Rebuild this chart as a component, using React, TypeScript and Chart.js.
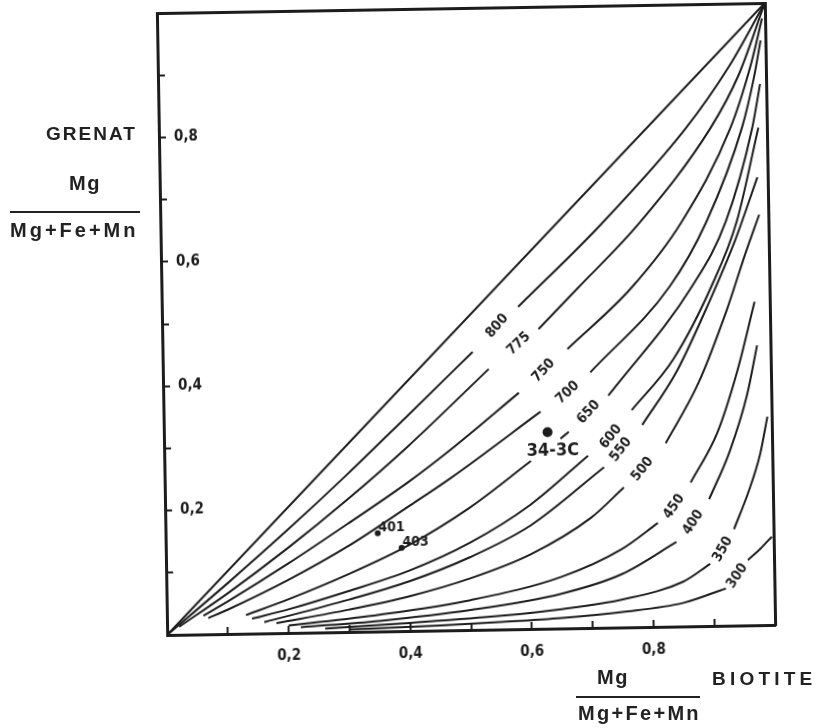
import React, { useEffect, useRef } from 'react';
import { Chart, registerables } from 'chart.js';

Chart.register(...registerables);

type Pt = [number, number] | null;

// 1:1 line
const lineEqual: Pt[] = [[0, 0], [1, 1]];

// isotherms (x = Mg/(Mg+Fe+Mn) biotite, y = Mg/(Mg+Fe+Mn) grenat); null = break in the line for a label
const iso800: Pt[] = [[0, 0], [0.1, 0.081], [0.2, 0.165], [0.3, 0.253], [0.4, 0.345], [0.51, 0.447], null, [0.586, 0.518], [0.726, 0.65], [0.866, 0.8], [0.94, 0.9], [1, 1]];
const iso775: Pt[] = [[0.02, 0.013], [0.1, 0.065], [0.2, 0.136], [0.3, 0.213], [0.4, 0.296], [0.536, 0.419], null, [0.619, 0.482], [0.685, 0.547], [0.788, 0.65], [0.907, 0.8], [0.955, 0.885], [1, 1]];
const iso750: Pt[] = [[0.06, 0.03], [0.1, 0.052], [0.2, 0.111], [0.3, 0.174], [0.4, 0.239], [0.472, 0.291], [0.585, 0.38], null, [0.666, 0.449], [0.774, 0.547], [0.857, 0.65], [0.94, 0.8], [0.975, 0.9], [0.995, 0.975]];
const iso700: Pt[] = [[0.068, 0.026], [0.1, 0.039], [0.2, 0.085], [0.3, 0.138], [0.4, 0.2], [0.471, 0.245], [0.62, 0.349], null, [0.703, 0.411], [0.836, 0.547], [0.898, 0.65], [0.959, 0.8], [0.98, 0.88], [0.992, 0.94]];
const iso650: Pt[] = [[0.13, 0.03], [0.2, 0.054], [0.3, 0.093], [0.4, 0.138], [0.5, 0.196], [0.603, 0.27], null, [0.652, 0.305], [0.666, 0.316], null, [0.732, 0.373], [0.873, 0.547], [0.93, 0.65], [0.976, 0.8], [0.99, 0.87]];
const iso600: Pt[] = [[0.14, 0.024], [0.2, 0.038], [0.3, 0.066], [0.4, 0.097], [0.5, 0.14], [0.6, 0.199], [0.697, 0.277], null, [0.77, 0.349], [0.84, 0.43], [0.905, 0.547], [0.948, 0.65], [0.986, 0.8]];
const iso550: Pt[] = [[0.16, 0.018], [0.3, 0.052], [0.4, 0.08], [0.5, 0.117], [0.6, 0.166], [0.723, 0.258], null, [0.787, 0.325], [0.845, 0.41], [0.9, 0.52], [0.945, 0.62], [0.983, 0.72]];
const iso500: Pt[] = [[0.18, 0.016], [0.3, 0.036], [0.4, 0.056], [0.5, 0.083], [0.6, 0.12], [0.7, 0.177], [0.755, 0.225], null, [0.825, 0.295], [0.88, 0.39], [0.93, 0.51], [0.962, 0.6], [0.985, 0.66]];
const iso450: Pt[] = [[0.2, 0.012], [0.35, 0.027], [0.5, 0.048], [0.65, 0.083], [0.75, 0.126], [0.81, 0.167], null, [0.865, 0.231], [0.91, 0.31], [0.945, 0.41], [0.975, 0.52]];
const iso400: Pt[] = [[0.22, 0.009], [0.35, 0.017], [0.5, 0.032], [0.65, 0.056], [0.75, 0.086], [0.84, 0.136], null, [0.895, 0.204], [0.93, 0.28], [0.96, 0.37], [0.978, 0.45]];
const iso350: Pt[] = [[0.26, 0.006], [0.4, 0.013], [0.55, 0.022], [0.65, 0.031], [0.75, 0.045], [0.85, 0.072], [0.895, 0.1], null, [0.935, 0.155], [0.96, 0.215], [0.98, 0.275], [0.993, 0.335]];
const iso300: Pt[] = [[0.3, 0.004], [0.45, 0.008], [0.55, 0.012], [0.65, 0.017], [0.75, 0.025], [0.85, 0.038], [0.92, 0.06], null, [0.957, 0.105], [0.978, 0.123], [0.997, 0.142]];

const isothermNames = ['800', '775', '750', '700', '650', '600', '550', '500', '450', '400', '350', '300'];
const isothermCurves = [iso800, iso775, iso750, iso700, iso650, iso600, iso550, iso500, iso450, iso400, iso350, iso300];
const isothermLabelX = [0.551, 0.586, 0.626, 0.665, 0.699, 0.735, 0.751, 0.786, 0.837, 0.868, 0.916, 0.939];
const isothermLabelY = [0.488, 0.459, 0.415, 0.379, 0.347, 0.307, 0.286, 0.254, 0.193, 0.167, 0.123, 0.08];

// analysed samples
const sampleNames = ['34-3C', '401', '403'];
const sampleX = [0.631, 0.349, 0.388];
const sampleY = [0.316, 0.158, 0.134];

// axis ticks
const tickValues = [0.1, 0.2, 0.3, 0.4, 0.5, 0.6, 0.7, 0.8, 0.9];
const xLabelValues = [0.2, 0.4, 0.6, 0.8];
const xTickLabels = ['0,2', '0,4', '0,6', '0,8'];
const yLabelValues = [0.2, 0.4, 0.6, 0.8];
const yTickLabels = ['0,2', '0,4', '0,6', '0,8'];

const INK = '#1c1c1c';
const CONDENSED = '"DejaVu Sans Condensed", "DejaVu Sans", sans-serif';

function labelFor(v: number, values: number[], labels: string[]): string {
  const i = values.findIndex((w) => Math.abs(w - v) < 1e-6);
  return i >= 0 ? labels[i] : '';
}

function segments(curve: Pt[]): { x: number; y: number }[][] {
  const out: { x: number; y: number }[][] = [];
  let cur: { x: number; y: number }[] = [];
  curve.forEach((p) => {
    if (p === null) {
      if (cur.length) out.push(cur);
      cur = [];
    } else cur.push({ x: p[0], y: p[1] });
  });
  if (cur.length) out.push(cur);
  return out;
}

const labelPlugin = {
  id: 'isoLabels',
  afterDatasetsDraw(chart: any) {
    const { ctx } = chart;
    const xs = chart.scales.x;
    const ys = chart.scales.y;
    ctx.save();
    ctx.fillStyle = INK;
    ctx.textAlign = 'center';
    ctx.textBaseline = 'middle';
    ctx.font = `bold 14px ${CONDENSED}`;
    isothermNames.forEach((name, i) => {
      const curve = isothermCurves[i];
      const k = curve.lastIndexOf(null);
      const a = curve[k - 1] as [number, number];
      const b = curve[k + 1] as [number, number];
      const ang = Math.atan2(
        ys.getPixelForValue(b[1]) - ys.getPixelForValue(a[1]),
        xs.getPixelForValue(b[0]) - xs.getPixelForValue(a[0])
      );
      ctx.save();
      ctx.translate(xs.getPixelForValue(isothermLabelX[i]), ys.getPixelForValue(isothermLabelY[i]));
      ctx.rotate(ang - 0.08);
      ctx.fillText(name, 0, 0);
      ctx.restore();
    });
    sampleNames.forEach((name, i) => {
      const px = xs.getPixelForValue(sampleX[i]);
      const py = ys.getPixelForValue(sampleY[i]);
      if (i === 0) {
        ctx.font = `bold 18px ${CONDENSED}`;
        ctx.fillText(name, px + 5, py + 19);
      } else {
        ctx.font = `bold 14px ${CONDENSED}`;
        ctx.fillText(name, px + 14, py - 5);
      }
    });
    ctx.restore();
  },
};

function noPad(s: any) {
  s.paddingTop = 0;
  s.paddingBottom = 0;
  s.paddingLeft = 0;
  s.paddingRight = 0;
}

export default function App() {
  const ref = useRef<HTMLCanvasElement | null>(null);

  useEffect(() => {
    if (!ref.current) return;
    const datasets: any[] = [];
    const allCurves = [lineEqual, ...isothermCurves];
    allCurves.forEach((c) => {
      segments(c).forEach((seg) => {
        datasets.push({
          type: 'scatter',
          data: seg,
          showLine: true,
          borderColor: INK,
          borderWidth: 2,
          pointRadius: 0,
          cubicInterpolationMode: 'monotone',
          fill: false,
        });
      });
    });
    datasets.push({
      type: 'scatter',
      data: sampleX.map((x, i) => ({ x, y: sampleY[i] })),
      showLine: false,
      pointRadius: (c: any) => (c.dataIndex === 0 ? 5 : 3),
      backgroundColor: INK,
      borderWidth: 0,
    });

    const tickFont = { family: CONDENSED, size: 15, weight: 'bold' as const };
    const tickColor = (c: any) => {
      const v = c.tick ? c.tick.value : 0;
      return v < 0.05 || v > 0.95 ? 'rgba(0,0,0,0)' : INK;
    };

    const chart = new Chart(ref.current, {
      type: 'scatter',
      data: { datasets },
      plugins: [labelPlugin],
      options: {
        animation: false,
        responsive: false,
        devicePixelRatio: 1,
        layout: { padding: { left: 162, top: 10, right: 53, bottom: 56 } },
        plugins: { legend: { display: false }, tooltip: { enabled: false }, title: { display: false } },
        scales: {
          x: {
            type: 'linear',
            position: 'bottom',
            min: 0,
            max: 1,
            afterFit: (s: any) => {
              s.height = 40;
              noPad(s);
            },
            afterBuildTicks: (s: any) => {
              s.ticks = tickValues.map((v) => ({ value: v }));
            },
            ticks: {
              autoSkip: false,
              maxRotation: 0,
              padding: 21,
              font: tickFont,
              color: INK,
              callback: (v: any) => labelFor(Number(v), xLabelValues, xTickLabels),
            },
            grid: { display: true, drawOnChartArea: false, drawTicks: true, tickLength: -7, tickWidth: 2, tickColor },
            border: { display: true, width: 3, color: INK },
          },
          y: {
            type: 'linear',
            position: 'left',
            min: 0,
            max: 1,
            afterFit: (s: any) => {
              s.width = 0;
              noPad(s);
            },
            afterBuildTicks: (s: any) => {
              s.ticks = tickValues.map((v) => ({ value: v }));
            },
            ticks: {
              autoSkip: false,
              mirror: true,
              padding: 15,
              font: tickFont,
              color: INK,
              callback: (v: any) => labelFor(Number(v), yLabelValues, yTickLabels),
            },
            grid: { display: true, drawOnChartArea: false, drawTicks: true, tickLength: -7, tickWidth: 2, tickColor },
            border: { display: true, width: 3, color: INK },
          },
          x2: {
            type: 'linear',
            position: 'top',
            min: 0,
            max: 1,
            afterFit: (s: any) => {
              s.height = 0;
              noPad(s);
            },
            ticks: { display: false },
            grid: { display: false },
            border: { display: true, width: 3, color: INK },
          },
          y2: {
            type: 'linear',
            position: 'right',
            min: 0,
            max: 1,
            afterFit: (s: any) => {
              s.width = 0;
              noPad(s);
            },
            ticks: { display: false },
            grid: { display: false },
            border: { display: true, width: 3, color: INK },
          },
        },
      } as any,
    });
    return () => chart.destroy();
  }, []);

  const title: React.CSSProperties = {
    position: 'absolute',
    fontFamily: '"Liberation Sans", Arial, sans-serif',
    fontWeight: 'bold',
    color: '#222',
    whiteSpace: 'nowrap',
    lineHeight: 1,
  };

  return (
    <div style={{ position: 'absolute', left: 0, top: 0, width: 823, height: 728, background: '#fff', overflow: 'hidden' }}>
      <div
        style={{
          position: 'absolute',
          left: 0,
          top: -2,
          width: 823,
          height: 728,
          transform: 'rotate(-0.95deg)',
          transformOrigin: '466px 321px',
        }}
      >
        <canvas ref={ref} width={823} height={728} style={{ width: 823, height: 728, display: 'block' }} />
      </div>
      <div style={{ ...title, left: 46, top: 124, fontSize: 19, letterSpacing: 2 }}>GRENAT</div>
      <div style={{ ...title, left: 10, width: 150, textAlign: 'center', top: 173, fontSize: 20, letterSpacing: 1.5 }}>Mg</div>
      <div style={{ position: 'absolute', left: 10, top: 211, width: 130, height: 2, background: '#222' }} />
      <div style={{ ...title, left: 10, width: 132, textAlign: 'left', top: 220, fontSize: 20, letterSpacing: 3 }}>Mg+Fe+Mn</div>
      <div style={{ ...title, left: 575, width: 76, textAlign: 'center', top: 667, fontSize: 20, letterSpacing: 1.5 }}>Mg</div>
      <div style={{ position: 'absolute', left: 576, top: 696, width: 124, height: 2, background: '#222' }} />
      <div style={{ ...title, left: 578, width: 124, textAlign: 'left', top: 703, fontSize: 20, letterSpacing: 2.3 }}>Mg+Fe+Mn</div>
      <div style={{ ...title, left: 712, top: 669, fontSize: 19, letterSpacing: 4.2 }}>BIOTITE</div>
    </div>
  );
}
